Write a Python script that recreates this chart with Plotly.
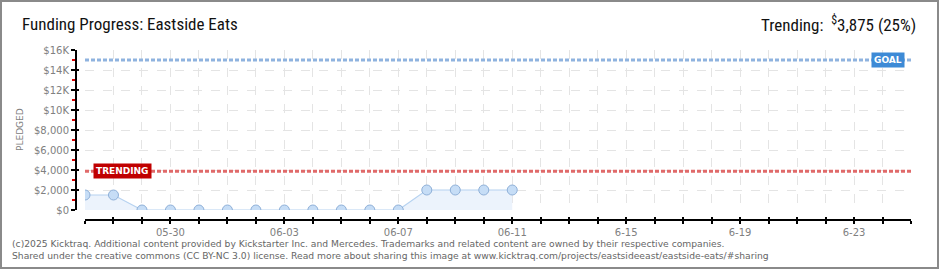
import plotly.graph_objects as go

# ---------------- data ----------------
dates = ["2025-05-27", "2025-05-28", "2025-05-29", "2025-05-30", "2025-05-31",
         "2025-06-01", "2025-06-02", "2025-06-03", "2025-06-04", "2025-06-05",
         "2025-06-06", "2025-06-07", "2025-06-08", "2025-06-09", "2025-06-10",
         "2025-06-11"]
pledged = [1500, 1500, 0, 0, 0, 0, 0, 0, 0, 0, 0, 0, 2000, 2000, 2000, 2000]

tick_days = ["2025-05-27", "2025-05-28", "2025-05-29", "2025-05-30", "2025-05-31",
             "2025-06-01", "2025-06-02", "2025-06-03", "2025-06-04", "2025-06-05",
             "2025-06-06", "2025-06-07", "2025-06-08", "2025-06-09", "2025-06-10",
             "2025-06-11", "2025-06-12", "2025-06-13", "2025-06-14", "2025-06-15",
             "2025-06-16", "2025-06-17", "2025-06-18", "2025-06-19", "2025-06-20",
             "2025-06-21", "2025-06-22", "2025-06-23", "2025-06-24", "2025-06-25"]
label_days = ["2025-05-30", "2025-06-03", "2025-06-07", "2025-06-11",
              "2025-06-15", "2025-06-19", "2025-06-23"]
label_texts = ["05-30", "06-03", "06-07", "06-11", "6-15", "6-19", "6-23"]

y_tickvals = [0, 2000, 4000, 6000, 8000, 10000, 12000, 14000, 16000]
y_ticktext = ["$0", "$2,000", "$4,000", "$6,000", "$8,000", "$10K", "$12K", "$14K", "$16K"]
y_minor = [1000, 3000, 5000, 7000, 9000, 11000, 13000, 15000]

goal = 15000
trending = 3875
title = "Funding Progress: Eastside Eats"
trend_text = "Trending:  <sup>$</sup>3,875 (25%)"
footer1 = ("(c)2025 Kicktraq. Additional content provided by Kickstarter Inc. and Mercedes. "
           "Trademarks and related content are owned by their respective companies.")
footer2 = ("Shared under the creative commons (CC BY-NC 3.0) license. Read more about sharing "
           "this image at www.kicktraq.com/projects/eastsideeast/eastside-eats/#sharing")

# ---------------- geometry ----------------
W, H = 940, 270
ML, MR, MT, MB = 76, 29, 50, 50
PW = W - ML - MR
PH = H - MT - MB


def px_x(px):
    return (px - ML) / PW


def px_y(py):
    return (H - MB - py) / PH


ticktext = [label_texts[label_days.index(d)] if d in label_days else " " for d in tick_days]

TICKFONT = dict(family="DejaVu Sans", size=10, color="#808080")
TITLEFONT = "Roboto Condensed, Liberation Sans Narrow, Liberation Sans"

fig = go.Figure()

fig.add_trace(go.Scatter(
    x=dates, y=pledged, mode="lines+markers",
    line=dict(color="#b6d2f0", width=1.2),
    marker=dict(size=10, color="#c6ddf6", line=dict(color="#8fb0d8", width=1)),
    fill="tozeroy", fillcolor="#ecf3fc",
    showlegend=False, hoverinfo="skip",
))
# dummy trace for overlay axes (cross ticks)
fig.add_trace(go.Scatter(x=[dates[0]], y=[None], xaxis="x2", yaxis="y2",
                         showlegend=False, hoverinfo="skip", mode="markers"))

fig.update_layout(
    width=W, height=H,
    margin=dict(l=ML, r=MR, t=MT, b=MB, pad=0),
    paper_bgcolor="white", plot_bgcolor="white",
    xaxis=dict(
        domain=[px_x(85), 1], range=[tick_days[0], tick_days[-1]],
        anchor="free", position=0,
        tickmode="array", tickvals=tick_days, ticktext=ticktext,
        ticks="outside", ticklen=3, tickwidth=1.5, tickcolor="black",
        showline=True, linecolor="black", linewidth=2,
        showgrid=True, gridcolor="#e4e4e4", griddash="dash", gridwidth=1,
        zeroline=False, tickfont=TICKFONT, tickangle=0,
    ),
    xaxis2=dict(
        overlaying="x", matches="x", anchor="free", position=0,
        tickmode="array", tickvals=tick_days,
        ticks="inside", ticklen=3, tickwidth=1.5, tickcolor="black",
        showline=False, showgrid=False, zeroline=False, showticklabels=False,
    ),
    yaxis=dict(
        domain=[px_y(210), 1], range=[0, 16000],
        anchor="free", position=0,
        tickmode="array", tickvals=y_tickvals, ticktext=y_ticktext,
        ticks="outside", ticklen=4, tickwidth=1.5, tickcolor="black",
        minor=dict(tickmode="array", tickvals=y_minor, ticks="outside",
                   ticklen=3, tickwidth=1.5, tickcolor="#dd0000", showgrid=False),
        showline=True, linecolor="black", linewidth=2,
        showgrid=True, gridcolor="#e4e4e4", griddash="dash", gridwidth=1,
        zeroline=False, tickfont=TICKFONT,
    ),
    yaxis2=dict(
        overlaying="y", matches="y", anchor="free", position=0,
        tickmode="array", tickvals=y_tickvals,
        ticks="inside", ticklen=2, tickwidth=1.5, tickcolor="black",
        showline=False, showgrid=False, zeroline=False, showticklabels=False,
    ),
)

# goal and trending reference lines
fig.add_shape(type="line", xref="x domain", yref="y", x0=0, x1=1, y0=goal, y1=goal,
              line=dict(color="#8fb3df", width=3, dash="4px,2px"))
fig.add_shape(type="line", xref="x domain", yref="y", x0=0, x1=1, y0=trending, y1=trending,
              line=dict(color="#e06a6a", width=3, dash="4px,2px"))

# border
fig.add_shape(type="rect", xref="paper", yref="paper",
              x0=px_x(1), x1=px_x(938), y0=px_y(268), y1=px_y(1),
              line=dict(color="#8a8a8a", width=2), fillcolor="rgba(0,0,0,0)", layer="above")

# labels on lines
fig.add_annotation(x=tick_days[-1], y=goal, xref="x", yref="y", text="<b>GOAL</b>",
                   showarrow=False, xanchor="right", yanchor="middle", xshift=-6,
                   font=dict(family="DejaVu Sans", size=9, color="white"),
                   bgcolor="#3d8ad6", borderpad=2)
fig.add_annotation(x=tick_days[0], y=trending, xref="x", yref="y", text="<b>TRENDING</b>",
                   showarrow=False, xanchor="left", yanchor="middle", xshift=8,
                   font=dict(family="DejaVu Sans", size=9, color="white"),
                   bgcolor="#c00000", borderpad=2)

# titles
fig.add_annotation(x=px_x(20), y=px_y(24), xref="paper", yref="paper", text=title,
                   showarrow=False, xanchor="left", yanchor="middle",
                   font=dict(family=TITLEFONT, size=17, color="#111111"))
fig.add_annotation(x=px_x(918), y=px_y(24), xref="paper", yref="paper", text=trend_text,
                   showarrow=False, xanchor="right", yanchor="middle",
                   font=dict(family=TITLEFONT, size=17, color="#111111"))
fig.add_annotation(x=px_x(20), y=px_y(130), xref="paper", yref="paper", text="PLEDGED",
                   showarrow=False, textangle=-90, xanchor="center", yanchor="middle",
                   font=dict(family="DejaVu Sans", size=9, color="#808080"))

# footer
fig.add_annotation(x=px_x(10), y=px_y(243), xref="paper", yref="paper", text=footer1,
                   showarrow=False, xanchor="left", yanchor="middle",
                   font=dict(family="DejaVu Sans", size=9.2, color="#666666"))
fig.add_annotation(x=px_x(10), y=px_y(256), xref="paper", yref="paper", text=footer2,
                   showarrow=False, xanchor="left", yanchor="middle",
                   font=dict(family="DejaVu Sans", size=9.2, color="#666666"))

fig.write_html("out.html")
